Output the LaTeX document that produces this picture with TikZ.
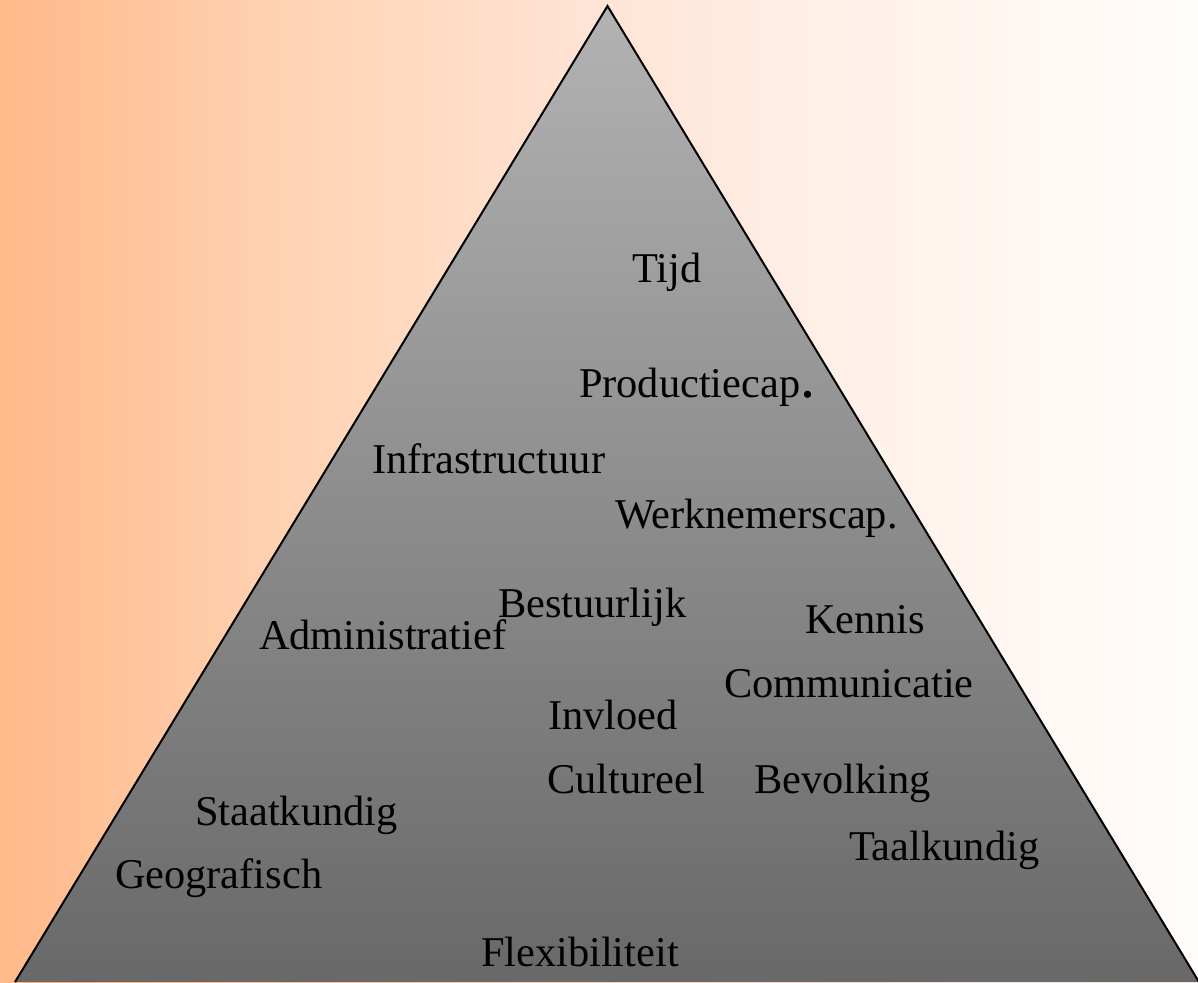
\documentclass[tikz,border=0pt]{standalone}
\usepackage{fontspec}
\setmainfont{Liberation Serif}
\pgfdeclarehorizontalshading{bgshade}{100bp}{rgb(0bp)=(1,0.725,0.541); rgb(25bp)=(1,0.725,0.541); rgb(37.5bp)=(1,0.830,0.710); rgb(50bp)=(1,0.894,0.839); rgb(62.5bp)=(1,0.953,0.925); rgb(75bp)=(1,0.990,0.985); rgb(100bp)=(1,0.990,0.985)}
\pgfdeclareverticalshading{pyrshade}{100bp}{rgb(0bp)=(0.41,0.41,0.41); rgb(25bp)=(0.41,0.41,0.41); rgb(75bp)=(0.70,0.70,0.70); rgb(100bp)=(0.70,0.70,0.70)}
\tikzset{
  lbl/.style={anchor=base west, inner sep=0pt, outer sep=0pt, font=\fontsize{21.2}{25}\selectfont, text=black},
}
\begin{document}
\begin{tikzpicture}[x=0.5pt,y=-0.5pt]
\useasboundingbox (0,0) rectangle (1198,982);
\clip (0,0) rectangle (1198,982);
\shade[shading=bgshade] (0,0) rectangle (1198,982);
\shade[shading=pyrshade] (607.5,6) -- (15,982) -- (1199,982) -- cycle;
\draw[line width=1pt, line join=miter] (15,982) -- (607.5,6) -- (1199,982);
\node[lbl] (tijd) at (632,282) {Tijd};
\node[lbl] (prod) at (579,397) {Productiecap{\fontsize{30}{32}\selectfont.}};
\node[lbl] (infra) at (372,473) {Infrastructuur};
\node[lbl] (werk) at (615,528) {Werknemerscap.};
\node[lbl] (best) at (498,617) {Bestuurlijk};
\node[lbl] (admin) at (259,649) {Administratief};
\node[lbl] (kennis) at (805,633) {Kennis};
\node[lbl] (comm) at (724,697) {Communicatie};
\node[lbl] (invl) at (548,729) {Invloed};
\node[lbl] (cult) at (547,793) {Cultureel};
\node[lbl] (bevol) at (754,793) {Bevolking};
\node[lbl] (staat) at (195,825) {Staatkundig};
\node[lbl] (taal) at (849,860) {Taalkundig};
\node[lbl] (geo) at (115,888) {Geografisch};
\node[lbl] (flex) at (481,966) {Flexibiliteit};
\end{tikzpicture}
\end{document}
